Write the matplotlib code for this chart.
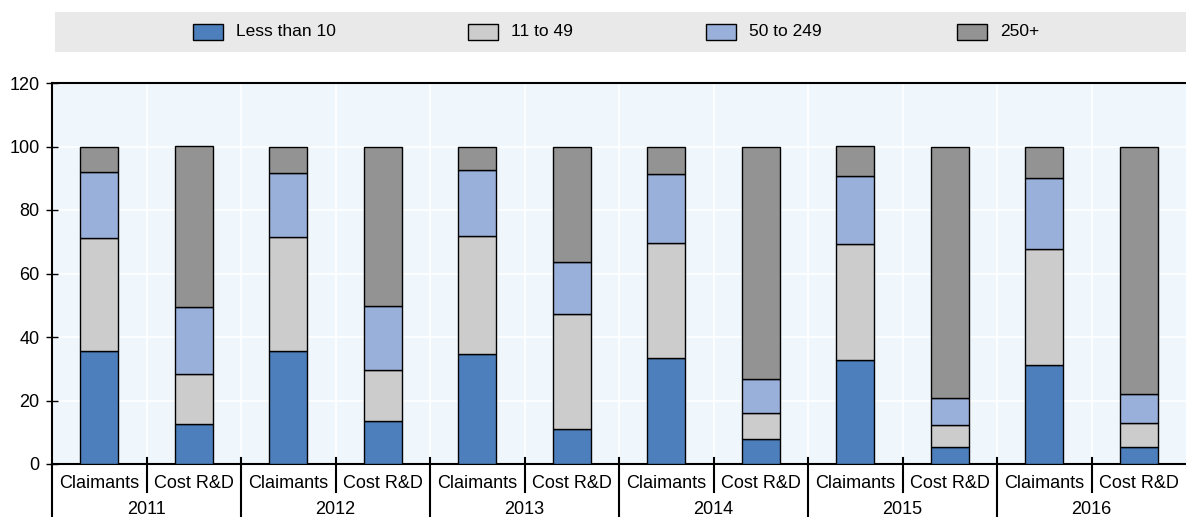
import matplotlib
matplotlib.use("Agg")
import matplotlib.pyplot as plt
from matplotlib.patches import Rectangle
import numpy as np

plt.rcParams['font.family'] = ['Liberation Sans Narrow', 'Liberation Sans', 'DejaVu Sans']

years = ["2011", "2012", "2013", "2014", "2015", "2016"]
measures = ["Claimants", "Cost R&D"]
series = ["Less than 10", "11 to 49", "50 to 249", "250+"]

# Shares (%) by firm size, alternating Claimants / Cost R&D for each year
less_than_10 = [35.7, 12.5, 35.5, 13.4, 34.7, 10.9, 33.5, 7.9, 32.7, 5.5, 31.2, 5.5]
from_11_to_49 = [35.5, 15.8, 36.0, 16.3, 37.2, 36.4, 36.1, 8.3, 36.6, 6.7, 36.6, 7.3]
from_50_to_249 = [20.7, 21.0, 20.2, 20.2, 20.7, 16.3, 21.7, 10.7, 21.5, 8.7, 22.3, 9.2]
over_250 = [8.1, 50.7, 8.3, 50.1, 7.4, 36.4, 8.7, 73.1, 9.2, 79.1, 9.9, 78.0]

colors = ["#4e7fbd", "#cccccc", "#99b1da", "#939393"]

W, H = 1186, 517
fig = plt.figure(figsize=(W / 100, H / 100), dpi=100)
ax = fig.add_axes([52 / W, (H - 464) / H, (W - 52) / W, (464 - 83) / H])
ax.set_facecolor("#eff7fc")

n = len(years) * len(measures)
x = np.arange(n)
bottom = np.zeros(n)
for vals, col, name in zip([less_than_10, from_11_to_49, from_50_to_249, over_250], colors, series):
    ax.bar(x, vals, width=0.4, bottom=bottom, color=col, edgecolor="black",
           linewidth=1.0, label=name, zorder=3)
    bottom += np.array(vals)

ax.set_xlim(-0.5, n - 0.5)
ax.set_ylim(0, 120)
ax.set_yticks(np.arange(0, 121, 20))
ax.set_xticks(x)
ax.set_xticklabels([measures[i % 2] for i in range(n)])
ax.set_xticks(np.arange(0.5, n - 0.5, 1), minor=True)
ax.tick_params(axis="x", which="both", length=0, pad=8, labelsize=13)
ax.tick_params(axis="y", direction="inout", length=8, width=1, labelsize=13, pad=5)
ax.grid(True, axis="y", which="major", color="white", linewidth=1.2, zorder=0)
ax.grid(True, axis="x", which="minor", color="white", linewidth=1.2, zorder=0)
ax.set_axisbelow(True)

for side in ["left", "top", "bottom"]:
    ax.spines[side].set_color("black")
    ax.spines[side].set_linewidth(1.5)
ax.spines["right"].set_visible(False)

# Category separators under the axis and year labels
trans = ax.get_xaxis_transform()
px = 1 / (464 - 83)
for b in np.arange(0.5, n - 0.5, 1):
    is_year_edge = int(b + 0.5) % 2 == 0
    y_low = -53 * px if is_year_edge else -28 * px
    ax.plot([b, b], [6 * px, y_low], transform=trans, color="black",
            linewidth=1.5, clip_on=False, zorder=4)
ax.plot([-0.5, -0.5], [0, -53 * px], transform=trans, color="black",
        linewidth=1.5, clip_on=False)
for i, yr in enumerate(years):
    ax.text(2 * i + 0.5, -46 * px, yr, transform=trans, ha="center", va="center",
            fontsize=13)

# Legend band
fig.patches.append(Rectangle((55 / W, (H - 52) / H), (W - 55) / W, 40 / H,
                             transform=fig.transFigure, facecolor="#e9e9e9",
                             edgecolor="none", zorder=0))
legend_x = [193, 468, 706, 957]
for lx, col, name in zip(legend_x, colors, series):
    fig.patches.append(Rectangle((lx / W, (H - 40) / H), 30 / W, 16 / H,
                                 transform=fig.transFigure, facecolor=col,
                                 edgecolor="black", linewidth=1.0, zorder=2))
    fig.text((lx + 43) / W, (H - 32) / H, name, ha="left", va="center",
             fontsize=12.5)

fig.savefig("out.png", dpi=100)
